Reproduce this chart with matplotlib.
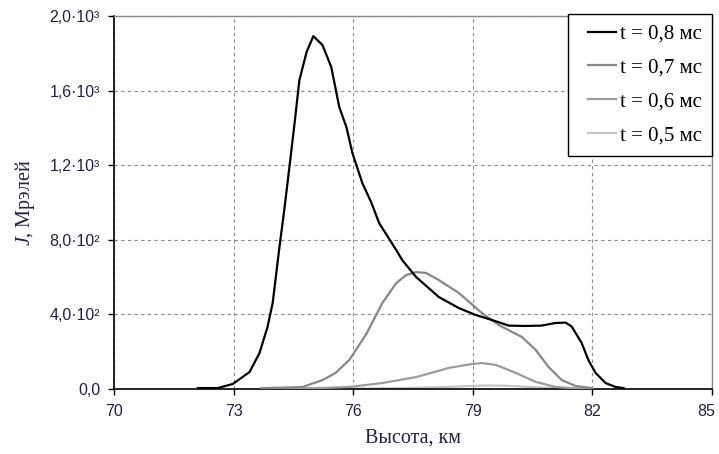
import matplotlib.pyplot as plt
from matplotlib.ticker import FixedLocator
from matplotlib.lines import Line2D
from matplotlib.legend_handler import HandlerLine2D
from matplotlib.transforms import ScaledTranslation

plt.rcParams["mathtext.fontset"] = "custom"
plt.rcParams["mathtext.it"] = "Liberation Serif:italic"
plt.rcParams["mathtext.rm"] = "Liberation Serif"

# Data
h_08 = [72.1, 72.6, 72.98, 73.4, 73.65, 73.85, 73.98, 74.15, 74.28, 74.4, 74.53, 74.65,
        74.83, 75.0, 75.23, 75.45, 75.65, 75.83, 75.98, 76.23, 76.45, 76.65, 77.08, 77.23,
        77.58, 78.15, 78.65, 79.07, 79.48, 79.9, 80.3, 80.73, 81.07, 81.33, 81.48, 81.73,
        81.9, 82.08, 82.33, 82.58, 82.78]
j_08 = [5, 5, 27, 91, 193, 332, 461, 761, 976, 1190, 1426, 1656,
        1806, 1892, 1844, 1726, 1512, 1404, 1265, 1104, 1002, 890, 745, 691,
        600, 493, 434, 397, 370, 340, 338, 340, 354, 356, 335, 247,
        155, 86, 32, 11, 5]

h_07 = [73.7, 74.2, 74.73, 75.23, 75.55, 75.9, 76.33, 76.73, 77.08, 77.33, 77.58, 77.83,
        78.15, 78.65, 79.23, 79.65, 80.23, 80.58, 80.9, 81.23, 81.58, 81.98]
j_07 = [5, 7, 11, 48, 85, 155, 295, 461, 568, 611, 627, 622,
        584, 515, 407, 343, 279, 209, 118, 48, 16, 5]

h_06 = [73.7, 74.5, 75.3, 75.9, 76.73, 77.58, 78.4, 78.98, 79.23, 79.58, 80.08, 80.58,
        81.08, 81.58, 82.0]
j_06 = [2, 3, 6, 11, 32, 64, 113, 134, 139, 129, 86, 38,
        11, 3, 2]

h_05 = [75.3, 76.5, 77.5, 78.5, 79.0, 79.4, 79.9, 80.5, 81.2, 82.0]
j_05 = [1, 3, 6, 12, 17, 19, 17, 10, 4, 1]

x_ticks = [70, 73, 76, 79, 82, 85]
y_ticks = [0, 400, 800, 1200, 1600, 2000]
y_labels = ["0,0", "4,0·10²", "8,0·10²", "1,2·10³", "1,6·10³", "2,0·10³"]
labels = ["t = 0,8 мс", "t = 0,7 мс", "t = 0,6 мс", "t = 0,5 мс"]

text_col = "#202048"

fig = plt.figure(figsize=(7.19, 4.54), dpi=100)
ax = fig.add_axes([114 / 719, 65 / 454, 598 / 719, 373 / 454])

ax.plot(h_08, j_08, color="black", lw=1.6, label=labels[0], zorder=5)
ax.plot(h_07, j_07, color="#878787", lw=1.6, label=labels[1], zorder=4)
ax.plot(h_06, j_06, color="#9c9c9c", lw=1.6, label=labels[2], zorder=3)
ax.plot(h_05, j_05, color="#c4c4c4", lw=1.6, label=labels[3], zorder=2)

ax.set_xlim(70, 85)
ax.set_ylim(0, 2000)
ax.xaxis.set_major_locator(FixedLocator(x_ticks))
ax.set_yticks(y_ticks)
ax.set_yticklabels(y_labels)

ax.grid(True, color="#8a8a8a", linestyle=(0, (3, 3)), linewidth=0.8)
for s in ["top", "right"]:
    ax.spines[s].set_color("#8a8a8a")
    ax.spines[s].set_linewidth(1.0)
for s in ["left", "bottom"]:
    ax.spines[s].set_color("black")
    ax.spines[s].set_linewidth(1.2)

ax.tick_params(direction="out", length=4, width=1, colors="black",
               labelcolor=text_col, labelsize=11.5)
ax.tick_params(axis="y", pad=6)
ax.tick_params(axis="x", pad=7)
for t in ax.get_xticklabels() + ax.get_yticklabels():
    t.set_family("Liberation Sans")

# last x label would be clipped at the figure edge, nudge it left a little
last = ax.xaxis.get_major_ticks()[-1].label1
last.set_transform(last.get_transform() + ScaledTranslation(-4 / 72, 0, fig.dpi_scale_trans))

ax.set_xlabel("Высота, км", family="Liberation Serif", fontsize=14.5,
              color=text_col, labelpad=7)
ax.set_ylabel("$\\mathit{J}$, Мрэлей", family="Liberation Serif", fontsize=14.5,
              color=text_col)
ax.yaxis.set_label_coords(-0.128, 0.5)

leg = ax.legend(loc="upper right", bbox_to_anchor=(712 / 719, 1 - 14 / 454),
                bbox_transform=fig.transFigure, borderaxespad=0,
                prop={"family": "Liberation Serif", "size": 15},
                labelspacing=0.68, handlelength=1.81, handletextpad=0.15,
                borderpad=0.5, fancybox=False, framealpha=1,
                handler_map={Line2D: HandlerLine2D(xpad=0.46)})
leg.get_frame().set_edgecolor("black")
leg.get_frame().set_linewidth(1.0)

fig.savefig("out.png", dpi=100)
